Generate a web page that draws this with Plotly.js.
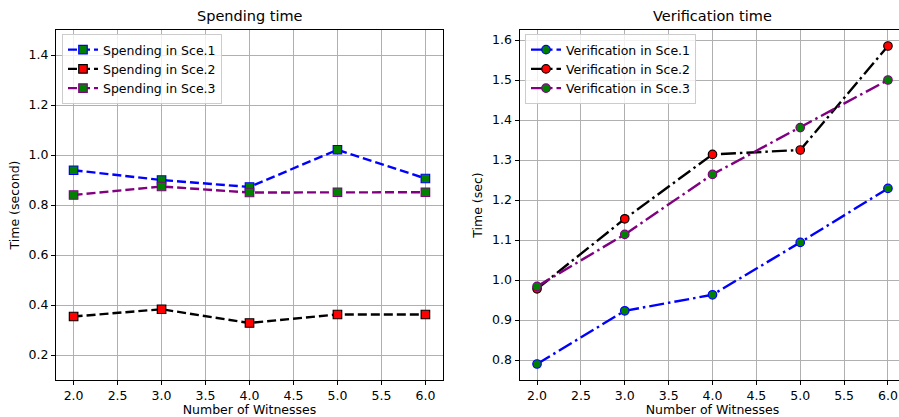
<!DOCTYPE html>
<html><head><meta charset="utf-8">
<script src="https://cdn.plot.ly/plotly-3.0.1.min.js"></script>
<style>html,body{margin:0;padding:0;overflow:hidden;background:#fff;width:899px;height:417px}</style>
</head><body><div id="chart"></div>
<script>
const witnesses = [2, 3, 4, 5, 6];
const spendSce1 = [0.939, 0.900, 0.872, 1.021, 0.906];
const spendSce2 = [0.354, 0.383, 0.328, 0.362, 0.362];
const spendSce3 = [0.840, 0.874, 0.850, 0.851, 0.851];
const verifSce1 = [0.790, 0.923, 0.963, 1.094, 1.229];
const verifSce2 = [0.978, 1.153, 1.314, 1.325, 1.585];
const verifSce3 = [0.984, 1.114, 1.264, 1.381, 1.500];
const xTicks = [2.0, 2.5, 3.0, 3.5, 4.0, 4.5, 5.0, 5.5, 6.0];
const spendYTicks = [0.2, 0.4, 0.6, 0.8, 1.0, 1.2, 1.4];
const verifYTicks = [0.8, 0.9, 1.0, 1.1, 1.2, 1.3, 1.4, 1.5, 1.6];

const W = 907, H = 417;
const FONT = 'DejaVu Sans, sans-serif';
const FS = 12.5;
function tr(x, y, name, lc, fc, ec, sym, dash, xa, ya, leg) {
  return {x: x, y: y, name: name, type: 'scatter', mode: 'lines+markers',
    xaxis: xa, yaxis: ya, legend: leg,
    line: {color: lc, width: 2.4, dash: dash},
    marker: {symbol: sym, size: 8.5, color: fc, line: {color: ec, width: 1.2}}};
}
const dashDash = '9px,4px';
const dashDot = '15px,4px,2.5px,4px';
const data = [
  tr(witnesses, spendSce1, 'Spending in Sce.1', 'blue', 'green', 'blue', 'square', dashDash, 'x', 'y', 'legend'),
  tr(witnesses, spendSce2, 'Spending in Sce.2', 'black', 'red', 'black', 'square', dashDash, 'x', 'y', 'legend'),
  tr(witnesses, spendSce3, 'Spending in Sce.3', 'purple', 'green', 'purple', 'square', dashDash, 'x', 'y', 'legend'),
  tr(witnesses, verifSce1, 'Verification in Sce.1', 'blue', 'green', 'blue', 'circle', dashDot, 'x2', 'y2', 'legend2'),
  tr(witnesses, verifSce2, 'Verification in Sce.2', 'black', 'red', 'black', 'circle', dashDot, 'x2', 'y2', 'legend2'),
  tr(witnesses, verifSce3, 'Verification in Sce.3', 'purple', 'green', 'purple', 'circle', dashDot, 'x2', 'y2', 'legend2')
];
const yb = (H - 380) / H, yt = (H - 30) / H;
function xax(d, anchor) {
  return {domain: d, anchor: anchor, range: [1.8, 6.2], tickvals: xTicks, tickformat: '.1f',
    showgrid: true, gridcolor: '#b0b0b0', gridwidth: 1, zeroline: false,
    showline: true, linecolor: 'black', linewidth: 1, mirror: true,
    ticks: 'outside', ticklen: 4, tickcolor: 'black',
    tickfont: {family: FONT, size: FS, color: 'black'},
    title: {text: 'Number of Witnesses', font: {family: FONT, size: FS, color: 'black'}, standoff: 3}};
}
function yax(range, ticks, title, anchor) {
  return {domain: [yb, yt], anchor: anchor, range: range, tickvals: ticks, tickformat: '.1f',
    showgrid: true, gridcolor: '#b0b0b0', gridwidth: 1, zeroline: false,
    showline: true, linecolor: 'black', linewidth: 1, mirror: true,
    ticks: 'outside', ticklen: 4, tickcolor: 'black',
    tickfont: {family: FONT, size: FS, color: 'black'},
    title: {text: title, font: {family: FONT, size: FS, color: 'black'}, standoff: 6}};
}
const legendBase = {bgcolor: 'rgba(255,255,255,0.8)', bordercolor: '#cccccc', borderwidth: 1,
  font: {family: FONT, size: FS, color: 'black'}, xanchor: 'left', yanchor: 'top', tracegroupgap: 0, itemwidth: 30};
const layout = {
  width: W, height: H, margin: {l: 0, r: 0, t: 0, b: 0},
  paper_bgcolor: 'white', plot_bgcolor: 'white', showlegend: true,
  font: {family: FONT, size: FS, color: 'black'},
  xaxis: xax([56 / W, 443 / W], 'y'),
  yaxis: yax([0.1, 1.5], spendYTicks, 'Time (second)', 'x'),
  xaxis2: xax([519.5 / W, 905.5 / W], 'y2'),
  yaxis2: yax([0.75, 1.625], verifYTicks, 'Time (sec)', 'x2'),
  legend: Object.assign({x: 62 / W, y: (H - 34) / H}, legendBase),
  legend2: Object.assign({x: 525 / W, y: (H - 34) / H}, legendBase),
  annotations: [
    {text: 'Spending time', x: 249.5 / W, y: (H - 16) / H, xref: 'paper', yref: 'paper', showarrow: false,
     xanchor: 'center', yanchor: 'middle', font: {family: FONT, size: 14.5, color: 'black'}},
    {text: 'Verification time', x: 712 / W, y: (H - 16) / H, xref: 'paper', yref: 'paper', showarrow: false,
     xanchor: 'center', yanchor: 'middle', font: {family: FONT, size: 14.5, color: 'black'}}
  ]
};
Plotly.newPlot('chart', data, layout, {displayModeBar: false, staticPlot: true});
</script></body></html>
